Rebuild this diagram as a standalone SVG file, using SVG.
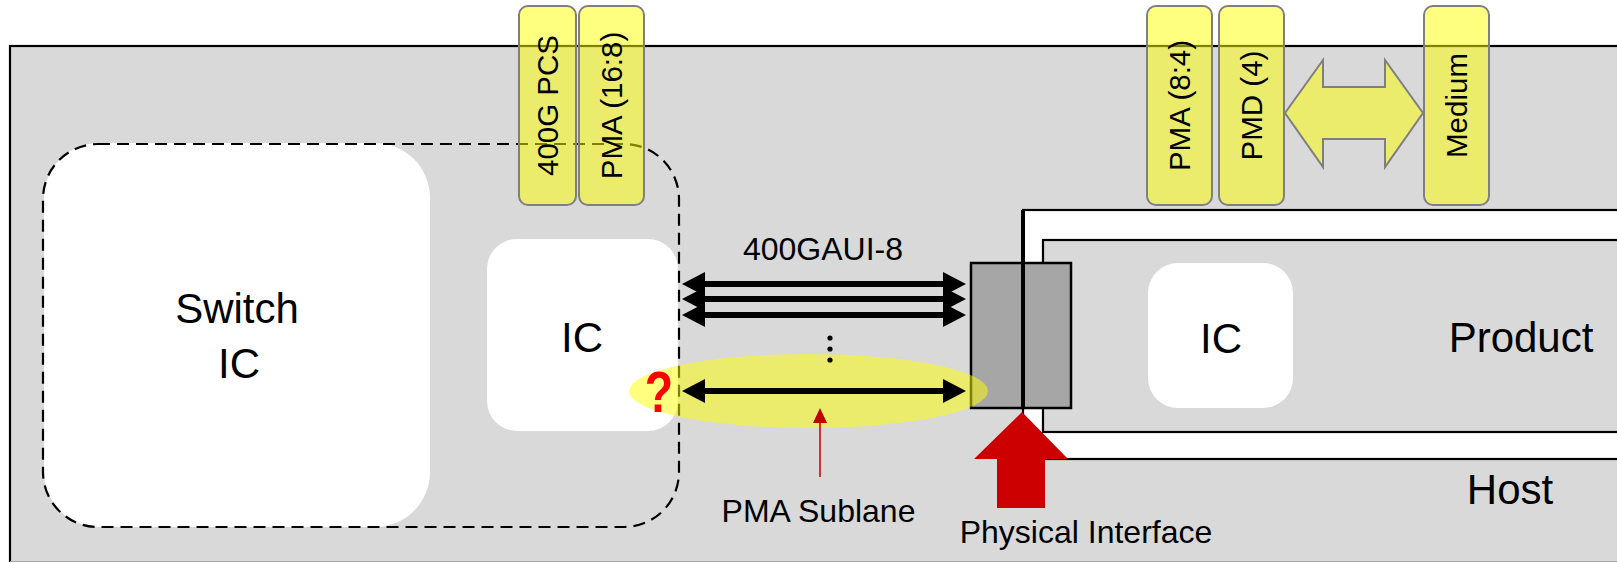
<svg xmlns="http://www.w3.org/2000/svg" width="1617" height="562" viewBox="0 0 1617 562">
  <style>
    .lbl { font-family: "Liberation Sans", Arial, sans-serif; fill: #000; text-anchor: middle; }
    .big { font-size: 42px; }
    .mid { font-size: 32px; }
    .rot { font-size: 29.5px; }
    .ybox { fill: #ffff00; fill-opacity: 0.5; stroke: #7f7f7f; stroke-width: 2; }
    .white { fill: #ffffff; stroke: none; }
    .frame { stroke: #000; stroke-width: 2.2; }
  </style>
  <defs>
    <path id="dblarrow" d="M682,0 L705,-12 L705,-3 L943,-3 L943,-12 L966,0 L943,12 L943,3 L705,3 L705,12 Z" fill="#000"/>
  </defs>

  <g id="host-board">
    <rect x="10" y="46" width="1640" height="540" fill="#d9d9d9" class="frame"/>
    <line x1="10" y1="561.5" x2="1617" y2="561.5" stroke="#a6a6a6" stroke-width="1"/>
  </g>

  <g id="host-frame">
    <rect x="1023" y="210" width="700" height="249" fill="#ffffff" class="frame"/>
  </g>

  <g id="product">
    <rect x="1043" y="240" width="700" height="192" fill="#d9d9d9" class="frame"/>
    <text class="lbl big" x="1521" y="352">Product</text>
  </g>

  <g id="host-label">
    <text class="lbl big" x="1510" y="504">Host</text>
  </g>

  <g id="product-ic">
    <rect x="1148" y="263" width="145" height="145" rx="30" class="white"/>
    <text class="lbl big" x="1221" y="353">IC</text>
  </g>

  <g id="switch-ic">
    <rect x="44" y="143" width="386" height="384" rx="55" class="white"/>
    <text class="lbl big" x="237" y="323">Switch</text>
    <text class="lbl big" x="239" y="378">IC</text>
  </g>

  <g id="host-ic">
    <rect x="487" y="239" width="191" height="192" rx="30" class="white"/>
    <text class="lbl big" x="582" y="352">IC</text>
  </g>

  <g id="host-domain">
    <rect x="43" y="144" width="636" height="383" rx="55" fill="none" stroke="#000" stroke-width="2.2" stroke-dasharray="12 7"/>
  </g>

  <g id="connector">
    <rect x="971" y="263" width="52" height="145" fill="#a6a6a6" stroke="#000" stroke-width="2.5"/>
    <rect x="1023" y="263" width="48" height="145" fill="#a6a6a6" stroke="#000" stroke-width="2.5"/>
    <line x1="1023" y1="210" x2="1023" y2="408" stroke="#000" stroke-width="4"/>
  </g>

  <g id="physical-interface">
    <path d="M1022,412 L1068,459 L1045,459 L1045,508 L997,508 L997,459 L974,459 Z" fill="#cc0000"/>
    <text class="lbl mid" x="1086" y="543" font-size="33">Physical Interface</text>
  </g>

  <g id="sublane-highlight">
    <ellipse cx="808.5" cy="391" rx="179.5" ry="37" fill="#ffff00" fill-opacity="0.5"/>
  </g>

  <g id="connectors">
    <use href="#dblarrow" transform="translate(0,284)"/>
    <use href="#dblarrow" transform="translate(0,299)"/>
    <use href="#dblarrow" transform="translate(0,315)"/>
    <use href="#dblarrow" transform="translate(0,391)"/>
    <circle cx="830" cy="338" r="2.6" fill="#000"/>
    <circle cx="830" cy="349" r="2.6" fill="#000"/>
    <circle cx="830" cy="360" r="2.6" fill="#000"/>
    <line x1="820" y1="477" x2="820" y2="420" stroke="#c00000" stroke-width="1.5"/>
    <path d="M820,408 L813,423 L827,423 Z" fill="#c00000"/>
    <path d="M1285,113 L1323,60 L1323,87 L1385,87 L1385,60 L1423,113 L1385,167 L1385,139 L1323,139 L1323,167 Z" class="ybox"/>
  </g>

  <g id="labels">
    <text class="lbl mid" x="823" y="260">400GAUI-8</text>
    <text class="lbl mid" x="818.5" y="522">PMA Sublane</text>
    <text transform="translate(659,412) scale(0.8,1)" font-family="Liberation Sans, Arial, sans-serif" font-weight="bold" font-size="58" fill="#ff0000" text-anchor="middle">?</text>
  </g>

  <g id="pcs-400g">
    <rect x="519" y="6" width="57" height="199" rx="9" class="ybox"/>
    <text class="lbl rot" transform="translate(547.5,105.5) rotate(-90)" y="10" font-size="27">400G PCS</text>
  </g>
  <g id="pma-16-8">
    <rect x="579" y="6" width="65" height="199" rx="9" class="ybox"/>
    <text class="lbl rot" transform="translate(611.5,105.5) rotate(-90)" y="10">PMA (16:8)</text>
  </g>
  <g id="pma-8-4">
    <rect x="1147" y="6" width="65" height="199" rx="9" class="ybox"/>
    <text class="lbl rot" transform="translate(1179.5,105.5) rotate(-90)" y="10">PMA (8:4)</text>
  </g>
  <g id="pmd-4">
    <rect x="1219" y="6" width="65" height="199" rx="9" class="ybox"/>
    <text class="lbl rot" transform="translate(1251.5,105.5) rotate(-90)" y="10">PMD (4)</text>
  </g>
  <g id="medium">
    <rect x="1424" y="6" width="65" height="199" rx="9" class="ybox"/>
    <text class="lbl rot" transform="translate(1456.5,105.5) rotate(-90)" y="10">Medium</text>
  </g>
</svg>
